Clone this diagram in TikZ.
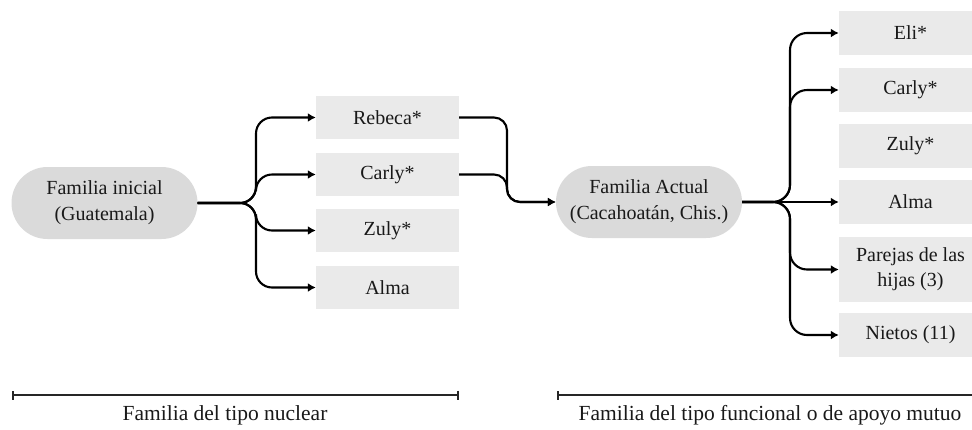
\documentclass[tikz,border=0pt]{standalone}
\usepackage{fontspec}
\setmainfont{Liberation Serif}
\usetikzlibrary{arrows.meta}
\definecolor{pillgray}{RGB}{218,218,218}
\definecolor{boxgray}{RGB}{234,234,234}
\definecolor{ink}{RGB}{25,25,25}
\begin{document}
\begin{tikzpicture}[x=1pt,y=-1pt,
  pill/.style={fill=pillgray, rounded corners=35.9pt, minimum width=186pt, minimum height=72pt,
    inner sep=0pt, align=center, text=ink, font=\fontsize{20}{26}\selectfont},
  gbox/.style={fill=boxgray, minimum width=143pt, minimum height=43.5pt, inner sep=0pt,
    align=center, text=ink, font=\fontsize{20}{25}\selectfont},
  arr/.style={draw=black, line width=2.1pt, -{Latex[length=8pt,width=9pt]}},
  captext/.style={text=ink, font=\fontsize{21.5}{26}\selectfont},
  spanline/.style={draw=black!85, line width=1.8pt}
]
\useasboundingbox (0,0) rectangle (972,429);
\clip (0,0) rectangle (972,429);

% left part
\node[pill] (fi) at (104.5,203) {Familia inicial\\(Guatemala)};
\node[gbox] (lr) at (387.5,117.5) {Rebeca*};
\node[gbox] (lc) at (387.5,174.5) {Carly*};
\node[gbox] (lz) at (387.5,230.5) {Zuly*};
\node[gbox] (la) at (387.5,287.5) {Alma};

\coordinate (lj) at (256,203);
\foreach \b in {lr,lc,lz,la}
  \draw[arr, rounded corners=16pt] (fi.east) -- (lj) |- (\b.west);

% middle
\node[pill] (fa) at (649,202) {Familia Actual\\(Cacahoat\'an, Chis.)};
\coordinate (mr) at (507,117.5);
\coordinate (mc) at (507,174.5);
\draw[arr, rounded corners=13pt] (lr.east) -- (mr) |- (fa.west);
\draw[arr, rounded corners=13pt] (lc.east) -- (mc) |- (fa.west);

% right part
\node[gbox] (re) at (910.5,33) {Eli*};
\node[gbox] (rc) at (910.5,90) {Carly*};
\node[gbox] (rz) at (910.5,146) {Zuly*};
\node[gbox] (ra) at (910.5,202) {Alma};
\node[gbox, minimum height=65pt] (rp) at (910.5,269.5) {Parejas de las\\hijas (3)};
\node[gbox] (rn) at (910.5,335) {Nietos (11)};

\coordinate (rj) at (790,202);
\foreach \b in {re,rc,rp,rn}
  \draw[arr, rounded corners=17pt] (fa.east) -- (rj) |- (\b.west);
\draw[arr] (fa.east) -- (ra.west);

% bottom spans
\coordinate (s1a) at (12,395);
\coordinate (s1b) at (459,395);
\coordinate (s2a) at (557,395);
\coordinate (s2b) at (990,395);
\draw[spanline, {Bar[width=9pt]}-{Bar[width=9pt]}] (s1a) -- (s1b);
\draw[spanline, {Bar[width=9pt]}-] (s2a) -- (s2b);
\node[captext] (c1) at (225,415) {Familia del tipo nuclear};
\node[captext] (c2) at (770,415) {Familia del tipo funcional o de apoyo mutuo};
\end{tikzpicture}
\end{document}
